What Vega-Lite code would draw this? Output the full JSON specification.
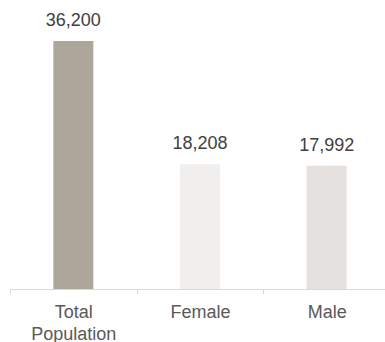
{
  "$schema": "https://vega.github.io/schema/vega-lite/v6.json",
  "width": 380,
  "height": 289,
  "autosize": {"type": "none"},
  "padding": {"left": 10, "top": 0, "right": 0, "bottom": 53},
  "background": "white",
  "config": {"view": {"stroke": null}, "font": "Liberation Sans"},
  "data": {"values": [
    {"group": "Total Population", "value": 36200, "color": "#aea59b"},
    {"group": "Female", "value": 18208, "color": "#f0efed"},
    {"group": "Male", "value": 17992, "color": "#e4e1de"}
  ]},
  "encoding": {
    "x": {"field": "group", "type": "nominal", "sort": null,
      "scale": {"paddingInner": 0, "paddingOuter": 0},
      "axis": {"title": null, "labelAngle": 0, "tickBand": "extent", "domainColor": "#d9d9d9", "tickColor": "#d9d9d9", "tickSize": 5, "labelFontSize": 18, "labelColor": "#595959", "labelPadding": 9, "labelLineHeight": 22, "labelFont": "Liberation Sans",
        "labelExpr": "datum.label == 'Total Population' ? ['Total', 'Population'] : datum.label"}},
    "y": {"field": "value", "type": "quantitative", "scale": {"domain": [0, 42185], "nice": false}, "axis": null}
  },
  "layer": [
    {"mark": {"type": "bar", "size": 40}, "encoding": {"color": {"field": "color", "type": "nominal", "scale": null}}},
    {"mark": {"type": "text", "baseline": "alphabetic", "dy": -15, "fontSize": 18, "color": "#404040", "font": "Liberation Sans"},
      "encoding": {"text": {"field": "value", "type": "quantitative", "format": ",d"}}}
  ]
}
